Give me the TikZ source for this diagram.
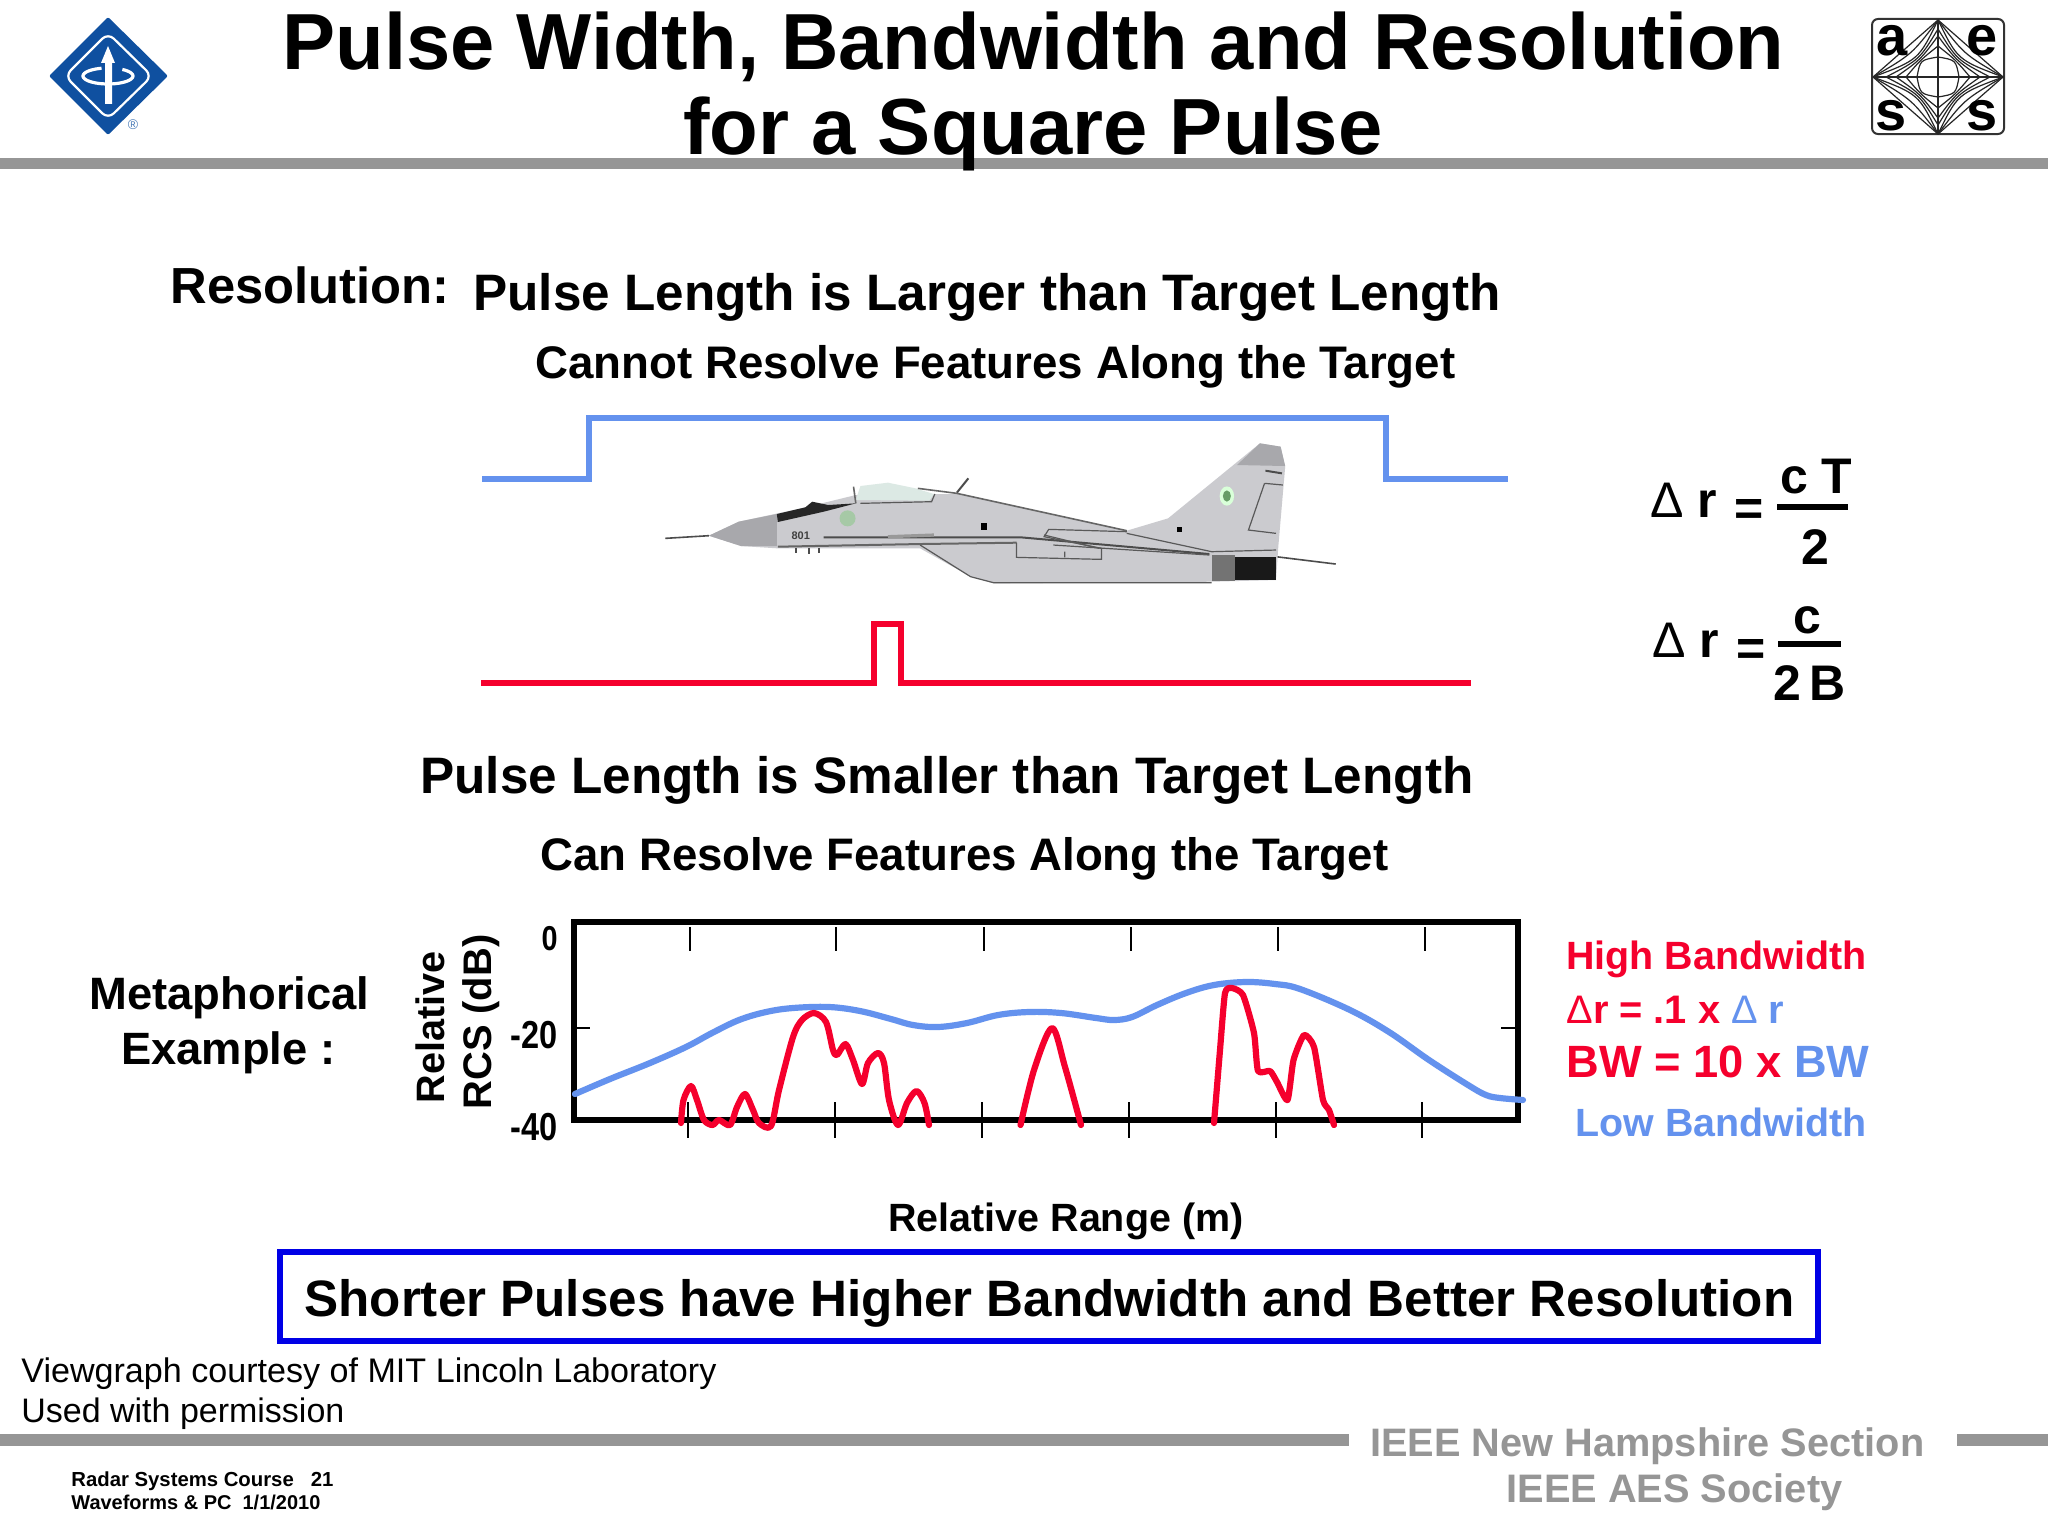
\documentclass[tikz,border=0pt]{standalone}
\usepackage{fontspec}
\setmainfont{Liberation Sans}
\newlength\fitlen
\newcommand\fitto[2]{\settowidth\fitlen{\fontsize{10}{12}\selectfont #2}\pgfmathsetmacro\fitsz{(#1*0.5/\fitlen)*10}\fontsize{\fitsz}{\fitsz}\selectfont #2}
\definecolor{barg}{HTML}{969696}
\definecolor{cblue}{HTML}{6492EE}
\definecolor{cred}{HTML}{F5002D}
\definecolor{ieee}{HTML}{0F50A0}
\definecolor{plane}{HTML}{CBCBCF}
\definecolor{planed}{HTML}{A8A8AC}
\definecolor{canopy}{HTML}{DCE9E4}
\definecolor{boxb}{HTML}{0000E6}
\tikzset{
 bt/.style={inner sep=0pt,anchor=base west,font=\bfseries},
 rt/.style={inner sep=0pt,anchor=base west},
 eq/.style={inner sep=0pt,anchor=base west,font=\fontsize{25}{25}\selectfont\bfseries},
 del/.style={inner sep=0pt,anchor=base west,font=\fontsize{25}{25}\selectfont},
 pulse/.style={line width=2.6pt,line join=miter},
 curve/.style={line width=3.1pt,line cap=round,line join=round},
 tick/.style={line width=1.2pt,black},
 pl/.style={line width=.6pt,draw=black!65},
 star/.style={line width=.6pt,draw=black!85},
 ylab/.style={inner sep=0pt,anchor=base east,font=\bfseries,yscale=1.2},
}
\begin{document}
\begin{tikzpicture}[x=0.5pt,y=-0.5pt]
\useasboundingbox (0,0) rectangle (2048,1536);
\fill[white] (0,0) rectangle (2048,1536);
% bars
\fill[barg] (0,158) rectangle (2048,169);
\fill[barg] (0,1434) rectangle (1349,1446);
\fill[barg] (1957,1434) rectangle (2048,1446);
% title
\node[bt] (t1) at (282,70) {\fitto{1502}{Pulse Width, Bandwidth and Resolution}};
\node[bt] (t2) at (683,155) {\fitto{699}{for a Square Pulse}};
% IEEE logo
\fill[ieee,rounded corners=1pt] (108,17) -- (168,76) -- (108,135) -- (49,76) -- cycle;
\draw[white,line width=1.1pt,rounded corners=4pt] (108,33) -- (152,76) -- (108,119) -- (65,76) -- cycle;
\draw[white,line width=1.6pt] plot[domain=105:415,samples=40] ({108+25*cos(\x)},{76-8*sin(\x)});
\fill[white] (105,104) -- (105,63) -- (101,63) -- (108,46) -- (115,63) -- (112,63) -- (112,104) -- cycle;
\node[inner sep=0pt,text=ieee!75,font=\fontsize{7}{7}\selectfont] (reg) at (133,125) {®};
% AES logo
\draw[line width=1pt,draw=black!80,rounded corners=3pt] (1872,19) rectangle (2004,134);
\foreach \k in {0.5,0.4,0.3}{
 \draw[star] (2003,77) .. controls ({1938+65*\k},{77-57*\k}) .. (1938,20);
 \draw[star] (1873,77) .. controls ({1938-65*\k},{77-57*\k}) .. (1938,20);
 \draw[star] (2003,77) .. controls ({1938+65*\k},{77+57*\k}) .. (1938,134);
 \draw[star] (1873,77) .. controls ({1938-65*\k},{77+57*\k}) .. (1938,134);
}
\foreach \w/\h/\c in {21/20/0.85,32/31/0.55,42/41/0.42,52/48/0.36}{
 \draw[star] ({1938+\w},77) .. controls ({1938+\c*\w},{77-\c*\h}) .. (1938,{77-\h});
 \draw[star] ({1938-\w},77) .. controls ({1938-\c*\w},{77-\c*\h}) .. (1938,{77-\h});
 \draw[star] ({1938+\w},77) .. controls ({1938+\c*\w},{77+\c*\h}) .. (1938,{77+\h});
 \draw[star] ({1938-\w},77) .. controls ({1938-\c*\w},{77+\c*\h}) .. (1938,{77+\h});
}
\draw[star] (1873,77) -- (2003,77) (1938,20) -- (1938,134);
\node[inner sep=0pt,anchor=base,font=\fontsize{28}{28}\selectfont\bfseries] (aa) at (1892,56) {a};
\node[inner sep=0pt,anchor=base,font=\fontsize{28}{28}\selectfont\bfseries] (ae) at (1982,56) {e};
\node[inner sep=0pt,anchor=base,font=\fontsize{28}{28}\selectfont\bfseries] (as) at (1891,130) {s};
\node[inner sep=0pt,anchor=base,font=\fontsize{28}{28}\selectfont\bfseries] (as2) at (1982,130) {s};
% headings
\node[bt] (res) at (170,303) {\fitto{279}{Resolution:}};
\node[bt] (h1) at (473,310) {\fitto{1027}{Pulse Length is Larger than Target Length}};
\node[bt] (h2) at (535,378) {\fitto{920}{Cannot Resolve Features Along the Target}};
\node[bt] (h3) at (420,793) {\fitto{1053}{Pulse Length is Smaller than Target Length}};
\node[bt] (h4) at (540,870) {\fitto{848}{Can Resolve Features Along the Target}};
% pulses
\draw[pulse,cblue] (482,479) -- (589,479) -- (589,418) -- (1386,418) -- (1386,479) -- (1508,479);
\draw[pulse,cred] (481,683) -- (874,683) -- (874,624) -- (901,624) -- (901,683) -- (1471,683);
% aircraft
\begin{scope}[shift={(640,420)},x=0.2296pt,y=-0.1667pt]
 \draw[line width=.8pt,black!70] (55,355) -- (150,347);
 \draw[line width=.8pt,black!70] (1385,410) -- (1515,432);
 \draw[line width=1pt,black!70] (690,218) -- (715,175);
 \fill[plane] (150,347) -- (215,305) -- (300,280) -- (360,262) -- (470,225) -- (640,222) -- (700,222) -- (900,285) -- (1060,332) -- (1150,295) -- (1350,70) -- (1395,80) -- (1405,140) -- (1390,380) -- (1385,480) -- (1245,485) -- (770,490) -- (720,470) -- (610,385) -- (300,385) -- (220,378) -- cycle;
 \fill[planed] (150,347) -- (215,305) -- (298,282) -- (298,378) -- (220,378) -- cycle;
 \fill[planed] (1350,70) -- (1395,80) -- (1405,138) -- (1300,135) -- cycle;
 \fill[canopy] (470,240) -- (480,198) -- (540,188) -- (600,205) -- (640,222) -- (630,242) -- cycle;
 \draw[line width=.8pt,black!60] (470,250) -- (465,200) (605,205) -- (690,220) -- (1060,332);
 \draw[pl] (480,250) -- (635,245) -- (642,222);
 \fill[black!85] (298,282) -- (360,262) -- (375,245) -- (410,255) -- (470,250) -- (400,275) -- (300,306) -- cycle;
 \fill[black!90] (1295,410) -- (1385,410) -- (1385,480) -- (1295,480) -- cycle;
 \fill[black!55] (1245,405) -- (1295,405) -- (1295,482) -- (1245,482) -- cycle;
 \draw[line width=1pt,black!70] (400,352) -- (830,352) -- (1240,402);
 \draw[line width=1pt,black!60] (300,380) -- (610,372) -- (820,368);
 \draw[line width=1.6pt,black!40] (540,350) -- (640,345);
 \draw[pl] (610,375) -- (720,470) -- (770,488) -- (1245,488);
 \draw[pl] (820,368) -- (820,412) -- (1005,418) -- (1005,385) -- (880,350) -- (890,328) -- (1060,335);
 \draw[pl] (1060,340) -- (1245,395) -- (1385,390);
 \draw[pl] (900,375) -- (1240,405);
 \draw[pl] (880,345) -- (1000,385) (925,395) -- (925,412);
 \draw[pl] (1360,190) -- (1325,330) -- (1385,340);
 \draw[pl] (1360,190) -- (1400,195);
 \draw[line width=1pt,black!70] (1362,152) -- (1398,160);
 \fill[black] (742,310) rectangle (755,330);
 \fill[black] (1170,322) rectangle (1180,335);
 \draw[black!70,line width=.8pt] (340,385) -- (340,400) (368,385) -- (368,402) (390,385) -- (390,400);
 \fill[green!40!black!35] (452,295) ellipse (4pt and 4pt);
 \fill[white!85!green] (1278,228) ellipse (3.6pt and 4.8pt);
 \fill[green!35!black!60] (1278,228) ellipse (2pt and 2.8pt);
 \node[inner sep=0pt,font=\fontsize{5.5}{5.5}\selectfont\bfseries,text=black!75] (tail) at (350,348) {801};
\end{scope}
% equations
\node[del] (d1) at (1650,517) {Δ};
\node[eq] (r1) at (1697,517) {r};
\node[eq] (e1) at (1734,525) {=};
\node[eq] (c1) at (1780,493) {c};
\node[eq] (T1) at (1821,493) {T};
\node[eq] (n1) at (1801,564) {2};
\draw[line width=3pt] (1777,507) -- (1848,507);
\node[del] (d2) at (1652,657) {Δ};
\node[eq] (r2) at (1699,657) {r};
\node[eq] (e2) at (1736,665) {=};
\node[eq] (c2) at (1793,633) {c};
\node[eq] (n2) at (1773,700) {2};
\node[eq] (B2) at (1809,700) {B};
\draw[line width=3pt] (1778,644) -- (1841,644);
% plot
\draw[line width=2.8pt,black,line join=miter] (574,922) rectangle (1518,1120);
\foreach \x in {690,836,984,1131,1278,1425}{\draw[tick] (\x,927) -- (\x,951);}
\foreach \x in {688,835,982,1129,1276,1422}{\draw[tick] (\x,1102) -- (\x,1138);}
\draw[tick] (575,1028) -- (590,1028);
\draw[tick] (1501,1028) -- (1518,1028);
\draw[curve,cblue] plot[smooth,tension=.6] coordinates {(575,1094)(610,1079)(650,1063)(686,1047)(712,1033)(739,1020)(766,1012)(793,1008)(829,1007)(860,1011)(891,1019)(913,1025)(938,1027)(967,1023)(998,1015)(1029,1012)(1061,1013)(1096,1018)(1114,1020)(1132,1017)(1157,1005)(1186,993)(1214,985)(1246,982)(1275,984)(1300,989)(1350,1010)(1389,1032)(1429,1060)(1468,1085)(1486,1095)(1500,1098)(1523,1100)};
\draw[curve,cred] plot[smooth,tension=.5] coordinates {(681,1123)(683.5,1100)(691,1086)(697,1100)(704,1120)(712.5,1125)(719,1120)(730,1125)(737,1107)(745,1094)(753,1110)(759,1123)(771,1126)(779,1090)(793,1037)(802,1020)(814,1013)(826,1022)(833,1050)(837,1055)(845.5,1044)(853,1060)(862,1084)(868,1063)(878,1053)(884,1063)(889,1100)(898,1125)(907,1103)(916.5,1091)(924.5,1103)(929,1125)};
\draw[curve,cred] plot[smooth,tension=.5] coordinates {(1020.5,1125)(1034,1070)(1052,1028)(1065,1067)(1081,1125)};
\draw[curve,cred] plot[smooth,tension=.35] coordinates {(1214,1123)(1220,1050)(1225,993)(1232,988)(1243,995)(1254,1033)(1258,1071)(1270,1071)(1277,1082)(1287.5,1100)(1293.5,1060)(1304,1035)(1314,1047)(1323,1100)(1329,1110)(1334,1125)};
% axis labels
\node[ylab] (y0) at (558,950) {\fitto{16}{0}};
\node[ylab] (y20) at (558,1048) {\fitto{47}{-20}};
\node[ylab] (y40) at (558,1140) {\fitto{47}{-40}};
\node[inner sep=0pt,anchor=base,rotate=90,font=\bfseries] (yl1) at (444,1027) {\fitto{152}{Relative}};
\node[inner sep=0pt,anchor=base,rotate=90,font=\bfseries] (yl2) at (491,1022) {\fitto{175}{RCS (dB)}};
\node[bt] (xl) at (888,1231) {\fitto{355}{Relative Range (m)}};
\node[bt] (m1) at (89,1009) {\fitto{280}{Metaphorical}};
\node[bt] (m2) at (121,1064) {\fitto{214}{Example :}};
% right labels
\node[bt,text=cred] (hb) at (1566,969) {\fitto{300}{High Bandwidth}};
\node[bt,text=cred] (dr) at (1566,1023) {\fitto{218}{{\mdseries Δ}r = .1 x \textcolor{cblue}{{\mdseries Δ} r}}};
\node[bt,text=cred] (bw) at (1566,1077) {\fitto{303}{BW = 10 x \textcolor{cblue}{BW}}};
\node[bt,text=cblue] (lb) at (1575,1136) {\fitto{291}{Low Bandwidth}};
% conclusion
\draw[boxb,line width=2.6pt] (280,1252) rectangle (1818,1341);
\node[bt] (con) at (304,1316) {\fitto{1490}{Shorter Pulses have Higher Bandwidth and Better Resolution}};
% footer
\node[rt] (f1) at (21,1382) {\fitto{695}{Viewgraph courtesy of MIT Lincoln Laboratory}};
\node[rt] (f2) at (21,1422) {\fitto{323}{Used with permission}};
\node[bt] (f3) at (71,1486) {\fitto{262}{Radar Systems Course\ \ \ 21}};
\node[bt] (f4) at (71,1509) {\fitto{249}{Waveforms \& PC\ \ 1/1/2010}};
\node[bt,text=barg] (f5) at (1370,1456) {\fitto{554}{IEEE New Hampshire Section}};
\node[bt,text=barg] (f6) at (1506,1502) {\fitto{336}{IEEE AES Society}};
\end{tikzpicture}
\end{document}
